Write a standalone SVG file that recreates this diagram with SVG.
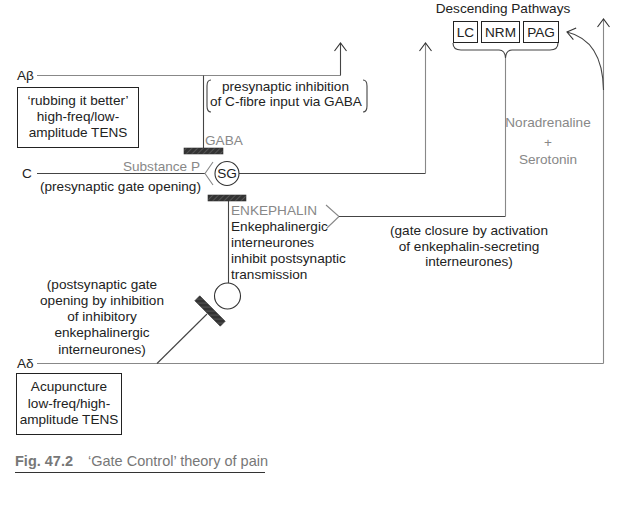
<svg xmlns="http://www.w3.org/2000/svg" width="622" height="510" viewBox="0 0 622 510">
<style>
text{font-family:"Liberation Sans",Arial,sans-serif;font-size:13.6px;fill:#222}
.g{fill:#888}
.c{text-anchor:middle}
.ln{fill:none;stroke:#444;stroke-width:1.1}
.lg{fill:none;stroke:#888;stroke-width:1.1}
.box{fill:#fff;stroke:#222;stroke-width:1}
.bar{fill:url(#hatch);stroke:#333;stroke-width:0.6}
</style>
<defs>
<pattern id="hatch" width="4" height="4" patternUnits="userSpaceOnUse" patternTransform="rotate(45)">
<rect width="4" height="4" fill="#333"/>
<line x1="0" y1="0" x2="0" y2="4" stroke="#777" stroke-width="1"/>
</pattern>
<marker id="arr" viewBox="-10 -8 12 16" refX="0" refY="0" markerWidth="12" markerHeight="16" markerUnits="userSpaceOnUse" orient="auto">
<path d="M-8,-6 L0,0 L-8,6" fill="none" stroke="#333" stroke-width="1.1"/>
</marker>
</defs>

<g id="connectors">
<path class="lg" d="M37,75.5 H340.5"/>
<path class="ln" d="M340.5,75.5 V43" marker-end="url(#arr)"/>
<path class="ln" d="M203.5,75.5 V148"/>
<path class="ln" d="M37,173.5 H205"/>
<path class="lg" d="M213,162 L205,173.5 L213,185"/>
<path class="ln" d="M239,173.5 H425.5"/>
<path class="lg" d="M425.5,173.5 V43" marker-end="url(#arr)"/>
<path class="ln" d="M228.5,201 V283"/>
<path class="lg" d="M326,205 L339,216.5 L327,228"/>
<path class="ln" d="M339,216.5 H505.5"/>
<path class="lg" d="M505.5,216.5 V58"/>
<path class="lg" d="M37,363.5 H603.5"/>
<path class="lg" d="M603.5,363.5 V19" marker-end="url(#arr)"/>
<path class="ln" d="M603.5,90 C603,58 592,38 567,32" marker-end="url(#arr)"/>
<path class="ln" d="M157,363.5 L207,314"/>
</g>

<g id="abeta">
<text x="17" y="80">Aβ</text>
</g>
<g id="c-fibre">
<text x="22" y="178">C</text>
<text x="200" y="171" class="g" text-anchor="end">Substance P</text>
<text x="40" y="191">(presynaptic gate opening)</text>
</g>
<g id="adelta">
<text x="17" y="368">Aδ</text>
</g>

<g id="rubbing">
<rect class="box" x="17.5" y="87.5" width="121" height="60"/>
<text class="c" x="78" y="105">‘rubbing it better’</text>
<text class="c" x="78" y="121">high-freq/low-</text>
<text class="c" x="78" y="137">amplitude TENS</text>
</g>

<g id="presyn-inhibition">
<path class="ln" d="M211,80 Q207,80 207,86 V106 Q207,112 211,112"/>
<path class="ln" d="M363,80 Q367,80 367,86 V106 Q367,112 363,112"/>
<text x="222" y="91">presynaptic inhibition</text>
<text x="210" y="106">of C-fibre input via GABA</text>
</g>

<g id="gaba">
<rect class="bar" x="184" y="148" width="39" height="6"/>
<text x="205" y="145" class="g">GABA</text>
</g>

<g id="sg">
<circle cx="227" cy="173.5" r="12" fill="#fff" stroke="#333" stroke-width="1.1"/>
<text class="c" x="227" y="178">SG</text>
</g>

<g id="enkephalin">
<rect class="bar" x="208" y="195" width="38" height="6"/>
<text x="231" y="215" class="g">ENKEPHALIN</text>
<text x="231" y="231">Enkephalinergic</text>
<text x="231" y="247">interneurones</text>
<text x="231" y="263">inhibit postsynaptic</text>
<text x="231" y="279">transmission</text>
<circle cx="227.5" cy="296" r="13" fill="#fff" stroke="#333" stroke-width="1.1"/>
</g>

<g id="postsyn-bar">
<rect class="bar" x="192" y="307.5" width="36" height="7" transform="rotate(45 210 311)"/>
</g>

<g id="gate-closure">
<text class="c" x="469" y="235">(gate closure by activation</text>
<text class="c" x="469" y="251">of enkephalin-secreting</text>
<text class="c" x="469" y="266">interneurones)</text>
</g>

<g id="postsyn-text">
<text class="c" x="102" y="289">(postsynaptic gate</text>
<text class="c" x="102" y="305">opening by inhibition</text>
<text class="c" x="102" y="321">of inhibitory</text>
<text class="c" x="102" y="337">enkephalinergic</text>
<text class="c" x="102" y="354">interneurones)</text>
</g>

<g id="descending">
<text class="c" x="503" y="13">Descending Pathways</text>
<rect class="box" x="453.5" y="21.5" width="24" height="21"/>
<text class="c" x="465.5" y="37">LC</text>
<rect class="box" x="481.5" y="21.5" width="38" height="21"/>
<text class="c" x="500.5" y="37">NRM</text>
<rect class="box" x="523.5" y="21.5" width="35" height="21"/>
<text class="c" x="541" y="37">PAG</text>
<path class="ln" d="M453,43 Q453,50 461,50 H499 Q505,50 505.5,58 Q506,50 512,50 H550 Q558,50 558,43"/>
</g>

<g id="neurotransmitters">
<text class="c g" x="548" y="127">Noradrenaline</text>
<text class="c g" x="548" y="147">+</text>
<text class="c g" x="548" y="164">Serotonin</text>
</g>

<g id="acupuncture">
<rect class="box" x="16.5" y="373.5" width="105" height="61"/>
<text class="c" x="69" y="391">Acupuncture</text>
<text class="c" x="69" y="408">low-freq/high-</text>
<text class="c" x="69" y="424">amplitude TENS</text>
</g>

<g id="caption">
<text x="15" y="466" style="font-weight:bold;fill:#777;font-size:14.5px">Fig. 47.2</text>
<text x="88" y="466" style="fill:#777;font-size:14.5px">‘Gate Control’ theory of pain</text>
<line x1="15" y1="472.5" x2="265" y2="472.5" stroke="#333" stroke-width="1"/>
</g>
</svg>
